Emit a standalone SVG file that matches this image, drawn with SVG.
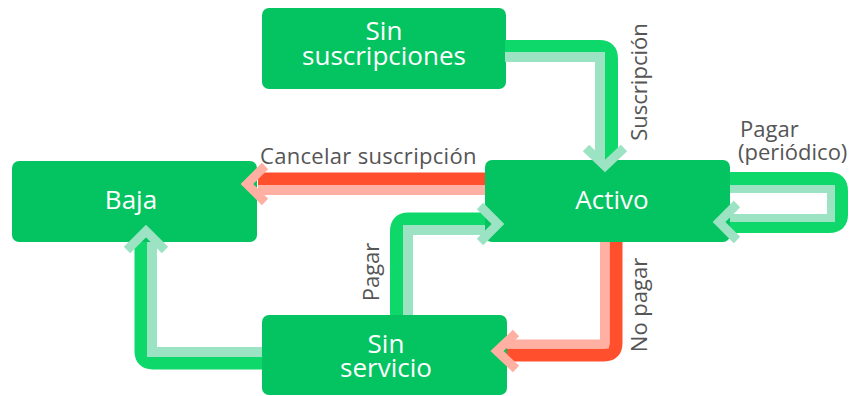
<svg xmlns="http://www.w3.org/2000/svg" width="854" height="396" viewBox="0 0 854 396">
<style>
.node{fill:#04C462}
.nt{fill:#fff;font-family:"Open Sans","Noto Sans","Liberation Sans",sans-serif;font-size:26px;text-anchor:middle}
.lbl{fill:#555;font-family:"Open Sans","Noto Sans","Liberation Sans",sans-serif;font-size:22px}
.g{fill:none;stroke:#0ED86A;stroke-width:13}
.gp{fill:none;stroke:#9BE3C2;stroke-width:10}
.r{fill:none;stroke:#FF4F2C;stroke-width:13}
.rp{fill:none;stroke:#FFB0A2;stroke-width:10}
.chg{fill:none;stroke:#9BE3C2;stroke-width:9}
.chr{fill:none;stroke:#FFB0A2;stroke-width:9}
</style>
<rect width="854" height="396" fill="#fff"/>
<g id="sin-suscripciones">
<rect class="node" x="262" y="8" width="244" height="81" rx="7"/>
<text class="nt" x="384" y="40">Sin</text>
<text class="nt" x="384" y="65">suscripciones</text>
</g>
<g id="baja">
<rect class="node" x="12" y="161" width="245" height="81" rx="7"/>
<text class="nt" x="131" y="209">Baja</text>
</g>
<g id="activo">
<rect class="node" x="485" y="160" width="245" height="82" rx="7"/>
<text class="nt" x="612" y="209">Activo</text>
</g>
<g id="sin-servicio">
<rect class="node" x="262" y="315" width="245" height="80" rx="7"/>
<text class="nt" x="386" y="353">Sin</text>
<text class="nt" x="386" y="377">servicio</text>
</g>
<g id="connectors">
<path class="g" d="M505,46.5 H599.5 Q611.5,46.5 611.5,58.5 V160"/>
<path class="gp" d="M505,57 H600 V160"/>
<path class="chg" d="M586,148 L605,166 L624,148"/>
<path class="r" d="M485,179 H258"/>
<path class="rp" d="M485,190 H258"/>
<path class="chr" d="M265,166 L247,184 L265,202"/>
<path class="g" d="M730,178.5 H829 Q841.5,178.5 841.5,191 V214.5 Q841.5,226.5 829,226.5 H730"/>
<path class="gp" style="stroke-width:8" d="M730,189 H831 V218 H730"/>
<path class="chg" d="M737,204 L719,222 L737,240"/>
<path class="g" d="M396.5,315 V231 Q396.5,219 408.5,219 H485"/>
<path class="gp" d="M408,315 V230 H485"/>
<path class="chg" d="M480,206 L498,224 L480,242"/>
<path class="g" d="M262,363 H153 Q141,363 141,351 V242"/>
<path class="gp" d="M262,352 H152 V242"/>
<path class="chg" d="M127,250 L146,231 L165,250"/>
<path class="r" d="M616,242 V343 Q616,355 604,355 H507"/>
<path class="rp" style="stroke-width:9" d="M604.5,242 V344 H507"/>
<path class="chr" d="M516,333 L497,351 L516,369"/>
<text class="lbl" x="260" y="164" font-size="23.5" letter-spacing="0.3">Cancelar suscripción</text>
<text class="lbl" text-anchor="middle" font-size="23" transform="translate(647,82) rotate(-90)">Suscripción</text>
<text class="lbl" x="740" y="137" font-size="21.5">Pagar</text>
<text class="lbl" x="738" y="160" font-size="21.5">(periódico)</text>
<text class="lbl" text-anchor="middle" transform="translate(379,272) rotate(-90)">Pagar</text>
<text class="lbl" text-anchor="middle" font-size="23" transform="translate(647,305) rotate(-90)">No pagar</text>
</g>
</svg>
